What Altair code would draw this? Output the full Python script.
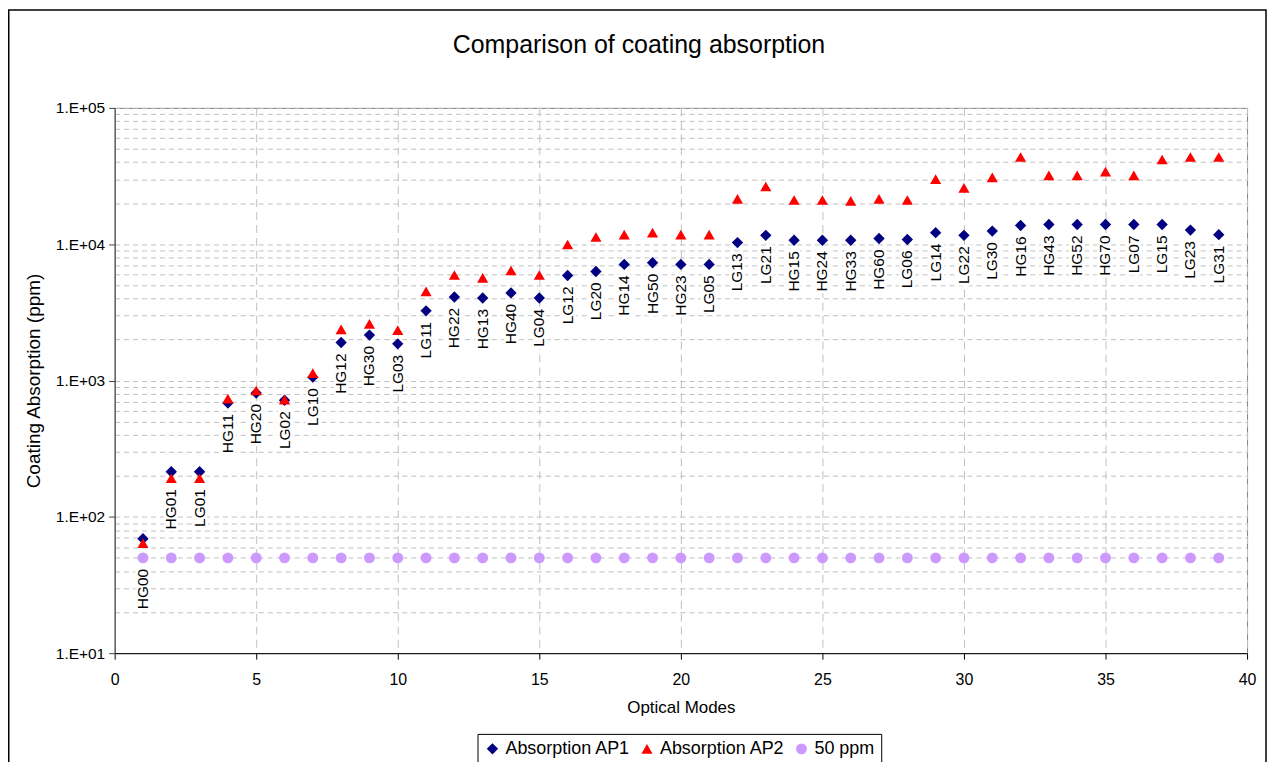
import altair as alt
import pandas as pd

# ---------------- data ----------------
modes = list(range(1, 40))
mode_labels = ["HG00", "HG01", "LG01", "HG11", "HG20", "LG02", "LG10", "HG12", "HG30", "LG03",
               "LG11", "HG22", "HG13", "HG40", "LG04", "LG12", "LG20", "HG14", "HG50", "HG23",
               "LG05", "LG13", "LG21", "HG15", "HG24", "HG33", "HG60", "LG06", "LG14", "LG22",
               "LG30", "HG16", "HG43", "HG52", "HG70", "LG07", "LG15", "LG23", "LG31"]
ap1 = [69, 214, 214, 684, 809, 716, 1058, 1900, 2155, 1857,
       3243, 4100, 4030, 4390, 4030, 5890, 6310, 7110, 7310, 7110,
       7110, 10280, 11620, 10690, 10690, 10690, 11000, 10820, 12150, 11620,
       12480, 13720, 13950, 13950, 13950, 13950, 13950, 12690, 11750]
ap2 = [64, 192, 192, 736, 845, 724, 1132, 2375, 2600, 2344,
       4510, 5940, 5660, 6410, 5940, 9950, 11300, 11750, 12150, 11750,
       11750, 21500, 26500, 21100, 21100, 20800, 21500, 21100, 30000, 25900,
       30900, 43600, 32000, 32000, 34100, 32000, 41800, 43600, 43600]
ppm50 = [50] * 39

series_names = ["Absorption AP1", "Absorption AP2", "50 ppm"]
series_colors = ["#000080", "#ff0000", "#cc99ff"]
series_shapes = ["diamond", "triangle-up", "circle"]
series_sizes = [130, 120, 75]

title_text = "Comparison of coating absorption"
x_title = "Optical Modes"
y_title = "Coating Absorption (ppm)"
x_ticks = [0, 5, 10, 15, 20, 25, 30, 35, 40]

FONT = "Liberation Sans"

# ---------------- tables ----------------
rows = []
for si, (name, vals) in enumerate(zip(series_names, [ap1, ap2, ppm50])):
    for m, v in zip(modes, vals):
        rows.append({"mode": m, "value": v, "series": name, "ord": si})
long_df = pd.DataFrame(rows)


def label_anchor(a, b, c):
    low = min(a, b)
    # if the 50 ppm marker sits right below, the label goes beneath it
    return low if low >= 2 * c else min(low, c)


lab_df = pd.DataFrame({
    "mode": modes,
    "label": mode_labels,
    "ypos": [label_anchor(a, b, c) for a, b, c in zip(ap1, ap2, ppm50)],
})

y_grid_vals = [m * 10 ** e for e in range(1, 5) for m in range(1, 10)] + [100000]
is_decade = "abs(log(datum.value)/LN10 - round(log(datum.value)/LN10)) < 0.001"

x_scale = alt.Scale(domain=[0, 40], nice=False, zero=False)
y_scale = alt.Scale(type="log", domain=[10, 100000], nice=False)

x_axis = alt.Axis(
    values=x_ticks, format="d", title=x_title,
    titleFont=FONT, titleFontSize=17, titleFontWeight="normal", titleColor="black",
    titlePadding=13,
    labelFont=FONT, labelFontSize=16, labelColor="black", labelPadding=12,
    labelFlush=False, labelOverlap=False,
    tickSize=6, tickColor="black", domainColor="black",
    grid=True, gridColor="#c0c0c0", gridDash=[8, 5], gridWidth=1,
)
y_axis = alt.Axis(
    values=y_grid_vals,
    labelExpr="(" + is_decade + ") ? '1.E+0' + round(log(datum.value)/LN10) : ''",
    title=y_title,
    titleFont=FONT, titleFontSize=19, titleFontWeight="normal", titleColor="black",
    titlePadding=12,
    labelFont=FONT, labelFontSize=15.5, labelColor="black", labelPadding=4,
    labelOverlap=False,
    tickSize=6, tickColor="#404040",
    tickOpacity={"condition": {"test": is_decade, "value": 1}, "value": 0},
    domainColor="#404040",
    grid=True, gridColor="#c0c0c0", gridDash=[5, 4], gridWidth=1,
)

legend = alt.Legend(
    title=None, orient="none", legendX=364, legendY=628,
    direction="horizontal", columns=3,
    strokeColor="black", fillColor="white", padding=6,
    labelFont=FONT, labelFontSize=18, labelColor="black", labelOffset=4,
    columnPadding=7, symbolSize=70, symbolStrokeWidth=0,
)

points = alt.Chart(long_df).mark_point(filled=True, opacity=1, strokeWidth=0).encode(
    x=alt.X("mode:Q", scale=x_scale, axis=x_axis),
    y=alt.Y("value:Q", scale=y_scale, axis=y_axis),
    color=alt.Color("series:N", scale=alt.Scale(domain=series_names, range=series_colors), legend=legend),
    shape=alt.Shape("series:N", scale=alt.Scale(domain=series_names, range=series_shapes), legend=legend),
    size=alt.Size("series:N", scale=alt.Scale(domain=series_names, range=series_sizes), legend=None),
    order=alt.Order("ord:Q"),
)

label_bg = alt.Chart(lab_df).mark_text(
    angle=270, align="right", baseline="middle", dx=-11,
    font=FONT, fontSize=15.5, fill="white", stroke="white", strokeWidth=6, strokeJoin="round",
).encode(
    x=alt.X("mode:Q", scale=x_scale),
    y=alt.Y("ypos:Q", scale=y_scale),
    text="label:N",
)
label_fg = alt.Chart(lab_df).mark_text(
    angle=270, align="right", baseline="middle", dx=-11,
    font=FONT, fontSize=15.5, color="black",
).encode(
    x=alt.X("mode:Q", scale=x_scale),
    y=alt.Y("ypos:Q", scale=y_scale),
    text="label:N",
)

one = pd.DataFrame({"k": [0]})
border = alt.Chart(one).mark_rect(fillOpacity=0, stroke="black", strokeWidth=1.5).encode(
    x=alt.value(-106.25), x2=alt.value(1155), y=alt.value(-98.25), y2=alt.value(720)
)
title_mark = alt.Chart(one).mark_text(
    text=title_text, font=FONT, fontSize=25, color="black", align="center", baseline="alphabetic"
).encode(x=alt.value(526), y=alt.value(-55))

chart = alt.layer(border, label_bg, label_fg, points, title_mark).properties(
    width=1136, height=547,
    autosize=alt.AutoSizeParams(type="none"),
    padding={"left": 107, "top": 99, "right": 20, "bottom": 108},
    background="white",
).configure_view(stroke="#808080", strokeWidth=1)

chart.save("out.html", embed_options={"renderer": "svg", "actions": False})
